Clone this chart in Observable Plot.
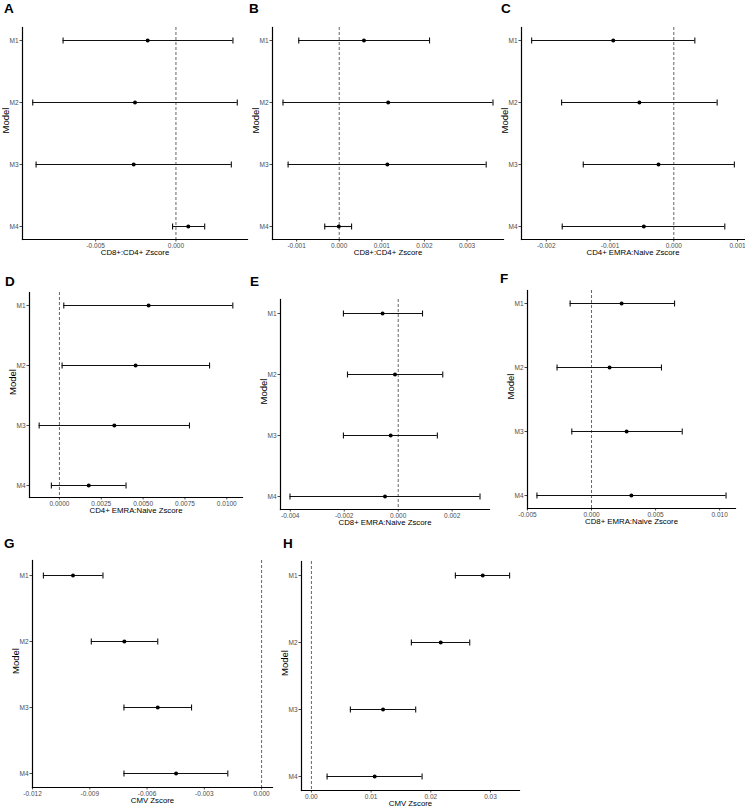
<!DOCTYPE html>
<html><head><meta charset="utf-8">
<script src="https://cdn.jsdelivr.net/npm/d3@7"></script>
<script src="https://cdn.jsdelivr.net/npm/@observablehq/plot@0.6"></script>
<style>
html,body{margin:0;padding:0;background:#fff;}
#fig{position:relative;width:745px;height:811px;overflow:hidden;font-family:"Liberation Sans",Arial,sans-serif;background:#fff;}
.panel{position:absolute;}
.letter{position:absolute;font-weight:bold;font-size:13.5px;line-height:1;color:#000;}
</style></head><body><div id="fig"></div>
<script>
// ---------- data ----------
const models = ["M1", "M2", "M3", "M4"];
const panelLetters = ["A", "B", "C", "D", "E", "F", "G", "H"];
const xTitles = [
  "CD8+:CD4+ Zscore", "CD8+:CD4+ Zscore", "CD4+ EMRA:Naive Zscore",
  "CD4+ EMRA:Naive Zscore", "CD8+ EMRA:Naive Zscore", "CD8+ EMRA:Naive Zscore",
  "CMV Zscore", "CMV Zscore"
];
const yTitle = "Model";

const estA = [-0.00176, -0.00255, -0.00263, 0.00077];
const loA  = [-0.00703, -0.00892, -0.00871, -0.00021];
const hiA  = [0.00355, 0.00382, 0.00345, 0.00179];

const estB = [0.00058, 0.00115, 0.00113, -0.00001];
const loB  = [-0.00095, -0.00132, -0.00120, -0.00034];
const hiB  = [0.00212, 0.00361, 0.00345, 0.00029];

const estC = [-0.00095, -0.00054, -0.00024, -0.00047];
const loC  = [-0.00223, -0.00176, -0.00142, -0.00175];
const hiC  = [0.00033, 0.00068, 0.00095, 0.00080];

const estD = [0.00533, 0.00455, 0.00328, 0.00175];
const loD  = [0.00026, 0.00016, -0.00121, -0.00048];
const hiD  = [0.01036, 0.00897, 0.00777, 0.00398];

const estE = [-0.00058, -0.00012, -0.00028, -0.00049];
const loE  = [-0.00203, -0.00188, -0.00203, -0.00401];
const hiE  = [0.00090, 0.00165, 0.00145, 0.00303];

const estF = [0.00235, 0.00141, 0.00274, 0.00311];
const loF  = [-0.00167, -0.00269, -0.00154, -0.00426];
const hiF  = [0.00648, 0.00546, 0.00708, 0.01050];

const estG = [-0.00988, -0.00719, -0.00544, -0.00448];
const loG  = [-0.01143, -0.00892, -0.00721, -0.00721];
const hiG  = [-0.00831, -0.00544, -0.00367, -0.00177];

const estH = [0.02870, 0.02166, 0.01200, 0.01060];
const loH  = [0.02412, 0.01675, 0.00653, 0.00263];
const hiH  = [0.03320, 0.02652, 0.01747, 0.01854];

const ticksA = [-0.005, 0];
const ticksB = [-0.001, 0, 0.001, 0.002, 0.003];
const ticksC = [-0.002, -0.001, 0, 0.001];
const ticksD = [0, 0.0025, 0.005, 0.0075, 0.01];
const ticksE = [-0.004, -0.002, 0, 0.002];
const ticksF = [-0.005, 0, 0.005, 0.01];
const ticksG = [-0.012, -0.009, -0.006, -0.003, 0];
const ticksH = [0, 0.01, 0.02, 0.03];
const tickDecimals = [3, 3, 3, 4, 3, 3, 3, 2];

const panels = [
  {est: estA, lo: loA, hi: hiA, ticks: ticksA},
  {est: estB, lo: loB, hi: hiB, ticks: ticksB},
  {est: estC, lo: loC, hi: hiC, ticks: ticksC},
  {est: estD, lo: loD, hi: hiD, ticks: ticksD},
  {est: estE, lo: loE, hi: hiE, ticks: ticksE},
  {est: estF, lo: loF, hi: hiF, ticks: ticksF},
  {est: estG, lo: loG, hi: hiG, ticks: ticksG},
  {est: estH, lo: loH, hi: hiH, ticks: ticksH}
];

// ---------- layout ----------
const layout = [
  {x: 0,   y: 0,   w: 250, h: 270, mt: 27, mr: 3,  mb: 31, ml: 22, lx: 4,   ly: 2},
  {x: 248, y: 0,   w: 262, h: 270, mt: 27, mr: 7,  mb: 31, ml: 24, lx: 249, ly: 2},
  {x: 495, y: 0,   w: 250, h: 270, mt: 27, mr: 1,  mb: 31, ml: 26, lx: 501, ly: 2},
  {x: 0,   y: 270, w: 248, h: 270, mt: 22, mr: 6,  mb: 43, ml: 29, lx: 5,   ly: 275},
  {x: 248, y: 270, w: 247, h: 270, mt: 29, mr: 6,  mb: 31, ml: 32, lx: 250, ly: 275},
  {x: 495, y: 270, w: 250, h: 270, mt: 20, mr: 10, mb: 32, ml: 32, lx: 500, ly: 272},
  {x: 0,   y: 540, w: 290, h: 271, mt: 20, mr: 18, mb: 24, ml: 32, lx: 4,   ly: 537},
  {x: 275, y: 540, w: 270, h: 271, mt: 21, mr: 26, mb: 21, ml: 26, lx: 283, ly: 537}
];

// vertical cap of an error bar (custom symbol, stroked)
const capSymbol = {
  draw(context) {
    context.moveTo(0, -3);
    context.lineTo(0, 3);
  }
};

const fig = document.getElementById("fig");
const font = "Liberation Sans, Arial, Helvetica, sans-serif";

panels.forEach((p, i) => {
  const L = layout[i];
  const rows = models.map((m, j) => ({model: m, est: p.est[j], lo: p.lo[j], hi: p.hi[j]}));
  const ext = d3.extent([...p.lo, ...p.hi, 0]);
  const pad = (ext[1] - ext[0]) * 0.05;
  const dec = tickDecimals[i];
  const fmt = (v) => (Math.abs(v) < 1e-12 ? 0 : v).toFixed(dec);
  const chart = Plot.plot({
    width: L.w, height: L.h,
    marginTop: L.mt, marginRight: L.mr, marginBottom: L.mb, marginLeft: L.ml,
    style: {background: "transparent", fontFamily: font, fontSize: "6.5px", overflow: "visible"},
    x: {domain: [ext[0] - pad, ext[1] + pad]},
    y: {type: "point", domain: models, padding: 0.2},
    marks: [
      Plot.ruleX([0], {stroke: "#555", strokeWidth: 0.9, strokeDasharray: "3,2"}),
      Plot.axisX({ticks: p.ticks, tickFormat: fmt, tickSize: 2.5, tickPadding: 1.5, color: "#4d4d4d", label: null}),
      Plot.axisY({tickSize: 2.5, tickPadding: 1.5, color: "#4d4d4d", label: null}),
      Plot.frame({anchor: "left", stroke: "#000", strokeWidth: 1.2}),
      Plot.frame({anchor: "bottom", stroke: "#000", strokeWidth: 1.2}),
      Plot.ruleY(rows, {y: "model", x1: "lo", x2: "hi", stroke: "#111", strokeWidth: 1.1}),
      Plot.dot(rows, {x: "lo", y: "model", symbol: capSymbol, fill: "none", stroke: "#111", strokeWidth: 1.1}),
      Plot.dot(rows, {x: "hi", y: "model", symbol: capSymbol, fill: "none", stroke: "#111", strokeWidth: 1.1}),
      Plot.dot(rows, {x: "est", y: "model", r: 2, fill: "#000", stroke: null}),
      Plot.text([xTitles[i]], {text: (d) => d, frameAnchor: "bottom", dy: 15, fontSize: 7.8, fill: "#000"}),
      Plot.text([yTitle], {text: (d) => d, frameAnchor: "left", dx: -17, rotate: -90, fontSize: 9.5, fill: "#000"})
    ]
  });
  chart.classList.add("panel");
  chart.style.left = L.x + "px";
  chart.style.top = L.y + "px";
  fig.appendChild(chart);
  const lt = document.createElement("div");
  lt.className = "letter";
  lt.textContent = panelLetters[i];
  lt.style.left = L.lx + "px";
  lt.style.top = L.ly + "px";
  fig.appendChild(lt);
});
</script>
</body></html>
